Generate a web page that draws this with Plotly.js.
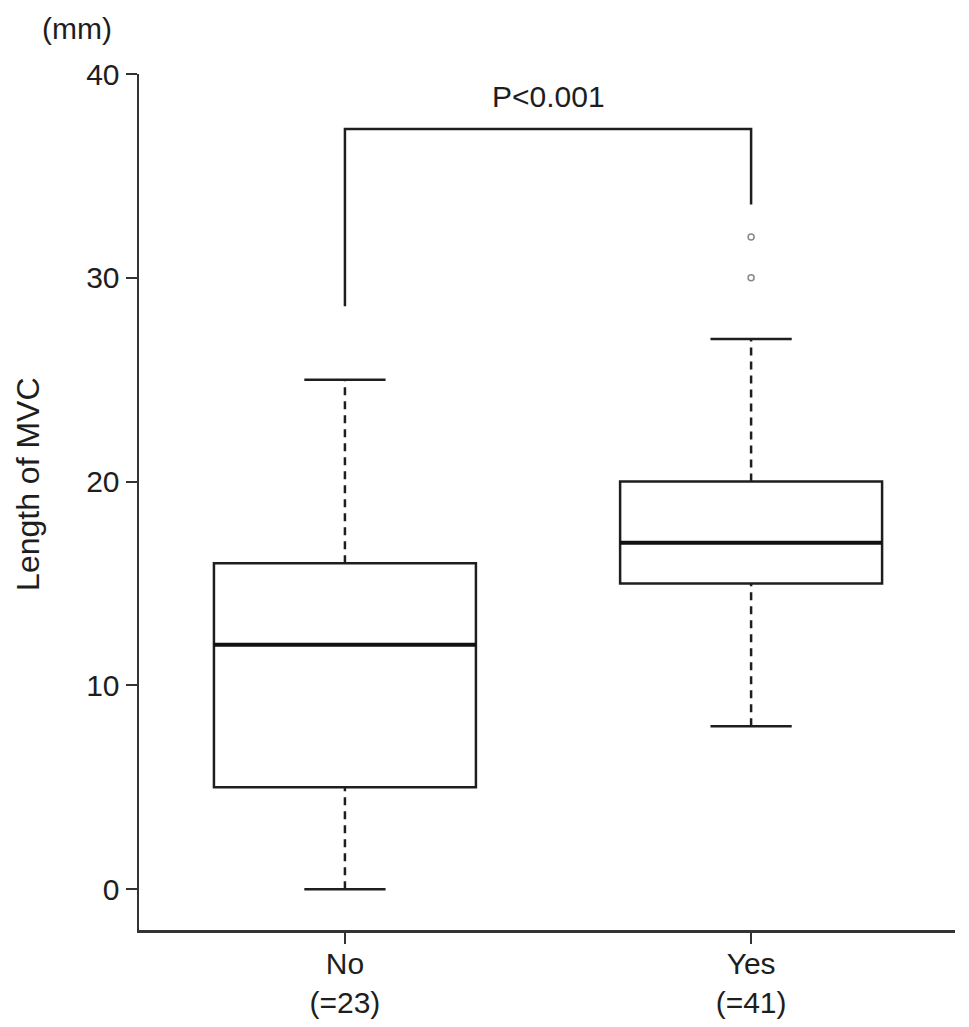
<!DOCTYPE html>
<html>
<head>
<meta charset="utf-8">
<script src="https://cdn.plot.ly/plotly-3.0.1.min.js"></script>
<style>html,body{margin:0;padding:0;background:#fff;}#chart{width:969px;height:1027px;}</style>
</head>
<body>
<div id="chart"></div>
<script>
// ---- data ----
const categories = ['No', 'Yes'];
const counts = [23, 41];
const positions = [0, 1];
const q1 = [5, 15];
const medians = [12, 17];
const q3 = [16, 20];
const lowerWhisker = [0, 8];
const upperWhisker = [25, 27];
const outliersYes = [30, 32];
const bracketTop = 37.3;
const bracketLegEnds = [28.6, 33.6];
const pLabel = 'P<0.001';
const pLabelY = 38.9;
const yTicks = [0, 10, 20, 30, 40];

const FONT = '"Liberation Sans", Arial, Helvetica, sans-serif';
const INK = '#1e1e1e';
const BOXW = 0.645;
const CAPW = 0.2;

const traces = [];

positions.forEach((p, i) => {
  traces.push({
    type: 'box', x: [p], q1: [q1[i]], median: [medians[i]], q3: [q3[i]],
    lowerfence: [q1[i]], upperfence: [q3[i]], width: BOXW, whiskerwidth: 0,
    fillcolor: 'rgba(0,0,0,0)', line: {color: INK, width: 2.5},
    boxpoints: false, hoverinfo: 'skip', showlegend: false, name: categories[i]
  });
  traces.push({
    type: 'scatter', mode: 'lines', x: [p - BOXW / 2, p + BOXW / 2], y: [medians[i], medians[i]],
    line: {color: '#111', width: 4}, hoverinfo: 'skip', showlegend: false
  });
  traces.push({
    type: 'scatter', mode: 'lines', x: [p, p, null, p, p],
    y: [lowerWhisker[i], q1[i], null, q3[i], upperWhisker[i]],
    line: {color: INK, width: 2.5, dash: '8px,6px'}, hoverinfo: 'skip', showlegend: false
  });
  traces.push({
    type: 'scatter', mode: 'lines',
    x: [p - CAPW / 2, p + CAPW / 2, null, p - CAPW / 2, p + CAPW / 2],
    y: [lowerWhisker[i], lowerWhisker[i], null, upperWhisker[i], upperWhisker[i]],
    line: {color: INK, width: 2.5}, hoverinfo: 'skip', showlegend: false
  });
});

traces.push({
  type: 'scatter', mode: 'markers', x: outliersYes.map(() => positions[1]), y: outliersYes,
  marker: {symbol: 'circle-open', size: 6, color: '#888', line: {width: 1.5, color: '#888'}},
  hoverinfo: 'skip', showlegend: false
});

traces.push({
  type: 'scatter', mode: 'lines',
  x: [positions[0], positions[0], positions[1], positions[1]],
  y: [bracketLegEnds[0], bracketTop, bracketTop, bracketLegEnds[1]],
  line: {color: INK, width: 2.5}, hoverinfo: 'skip', showlegend: false
});

const layout = {
  width: 969, height: 1027,
  margin: {l: 139, r: 14, t: 74, b: 97},
  paper_bgcolor: '#fff', plot_bgcolor: '#fff',
  font: {family: FONT, size: 30, color: INK},
  showlegend: false,
  xaxis: {
    type: 'linear', range: [-0.507, 1.502], tickvals: positions,
    ticktext: categories.map((c, i) => c + '<br>(=' + counts[i] + ')'),
    showgrid: false, zeroline: false, showline: true, linecolor: '#333', linewidth: 2.5,
    ticks: 'outside', ticklen: 11, tickwidth: 2, tickcolor: '#333', ticklabelstandoff: -6,
    tickfont: {family: FONT, size: 30, color: INK}, fixedrange: true
  },
  yaxis: {
    range: [-2, 40], tickvals: yTicks,
    showgrid: false, zeroline: false, showline: true, linecolor: '#333', linewidth: 2.5,
    ticks: 'outside', ticklen: 11, tickwidth: 2, tickcolor: '#333',
    tickfont: {family: FONT, size: 30, color: INK}, fixedrange: true
  },
  annotations: [
    {text: pLabel, x: 0.5, y: pLabelY, xref: 'x', yref: 'y', showarrow: false,
     xanchor: 'center', yanchor: 'middle', font: {family: FONT, size: 30, color: INK}},
    {text: '(mm)', x: -0.076, y: 1.0526, xref: 'paper', yref: 'paper', showarrow: false,
     xanchor: 'center', yanchor: 'middle', font: {family: FONT, size: 30, color: INK}},
    {text: 'Length of MVC', x: -0.136, y: 0.52, xref: 'paper', yref: 'paper', showarrow: false,
     textangle: -90, xanchor: 'center', yanchor: 'middle', font: {family: FONT, size: 32, color: INK}}
  ]
};

Plotly.newPlot('chart', traces, layout, {displayModeBar: false, staticPlot: true});
</script>
</body>
</html>
